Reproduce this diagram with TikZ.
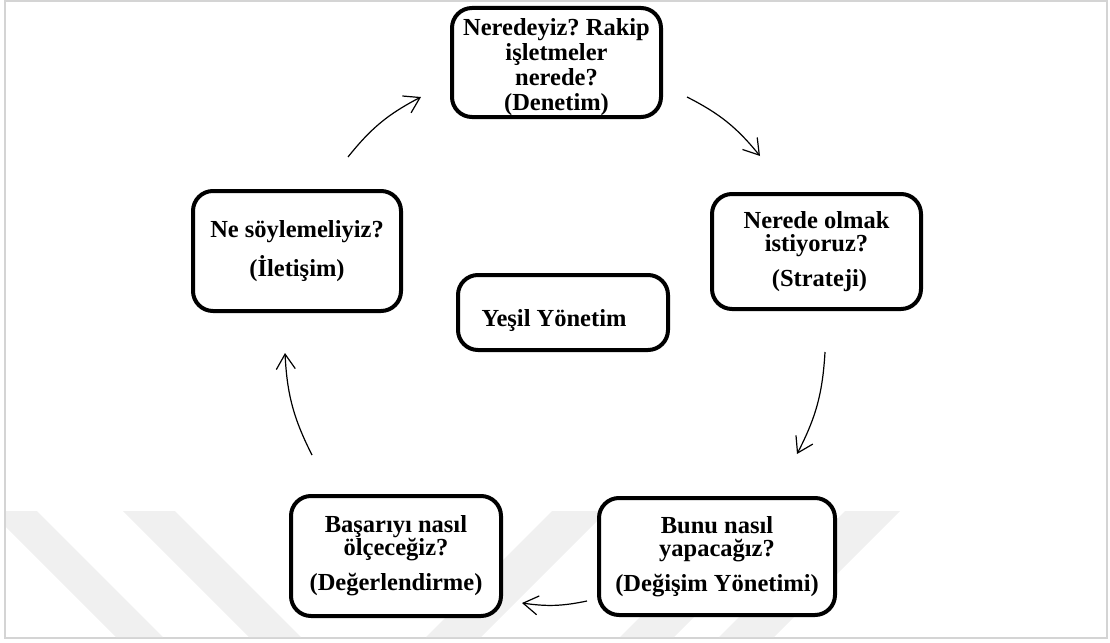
\documentclass[tikz,border=0pt]{standalone}
\usepackage{fontspec}
\setmainfont{Liberation Serif}
\usetikzlibrary{arrows.meta}
\begin{document}
\frenchspacing
\begin{tikzpicture}[x=1pt,y=-1pt,
  stage/.style={draw=black, line width=4pt, rounded corners=20pt, fill=white,
    align=center, inner sep=0pt, font=\bfseries\frenchspacing\fontsize{24.5}{23}\selectfont},
  cyc/.style={line width=1.2pt, -{Straight Barb[length=15pt,width=19pt]}},
  wmark/.style={fill=black!6, draw=none}
]
\useasboundingbox (0,0) rectangle (1110,642);

% page frame
\draw[black!17, line width=2pt] (5,1) rectangle (1107,638);

% faint diagonal watermark bands along the bottom
\begin{scope}
  \clip (6,511) rectangle (1106,637);
  \fill[wmark] (-10,511) -- (37,511) -- (163,637) -- (116,637) -- cycle;
  \fill[wmark] (123,511) -- (175,511) -- (301,637) -- (249,637) -- cycle;
  \fill[wmark] (552,511) -- (607,511) -- (481,637) -- (426,637) -- cycle;
  \fill[wmark] (746,511) -- (800,511) -- (674,637) -- (620,637) -- cycle;
  \fill[wmark] (845,511) -- (900,511) -- (774,637) -- (719,637) -- cycle;
\end{scope}

% the five stages of the cycle and the centre
\node[stage, minimum width=209pt, minimum height=109pt] (audit) at (556.5,62.5)
  {\rule{0pt}{26pt}Neredeyiz? Rakip\\[2pt] işletmeler\\[2pt] nerede?\\[2pt] (Denetim)};
\node[stage, minimum width=209pt, minimum height=115pt] (strategy) at (816.5,251.5)
  {Nerede olmak\\ istiyoruz?\\[12pt] \kern6pt(Strateji)};
\node[stage, minimum width=236pt, minimum height=117pt] (change) at (717,556.5)
  {Bunu nasıl\\ yapacağız?\\[12pt] (Değişim Yönetimi)};
\node[stage, minimum width=210pt, minimum height=120pt] (evaluate) at (396,556)
  {Başarıyı nasıl\\ ölçeceğiz?\\[12pt] (Değerlendirme)};
\node[stage, minimum width=208pt, minimum height=120pt] (communicate) at (297,251)
  {Ne söylemeliyiz?\\[12pt] (İletişim)};
\node[stage, minimum width=210pt, minimum height=75pt] (green) at (563,312.5)
  {\raisebox{-8pt}[\height][\depth]{\kern-18pt Yeşil Yönetim}};

% arrow ends around the cycle
\coordinate (c1s) at (348,157);  \coordinate (c1e) at (421,97);
\coordinate (c2s) at (687,97);   \coordinate (c2e) at (760,156);
\coordinate (c3s) at (825,352);  \coordinate (c3e) at (797,454);
\coordinate (c4s) at (587,601);  \coordinate (c4e) at (522,603);
\coordinate (c5s) at (312,455);  \coordinate (c5e) at (285,353);

\draw[cyc] (c1s) to[bend left=12] (c1e);
\draw[cyc] (c2s) to[bend left=12] (c2e);
\draw[cyc] (c3s) to[bend left=12] (c3e);
\draw[cyc] (c4s) to[bend left=10] (c4e);
\draw[cyc] (c5s) to[bend left=12] (c5e);
\end{tikzpicture}
\end{document}
